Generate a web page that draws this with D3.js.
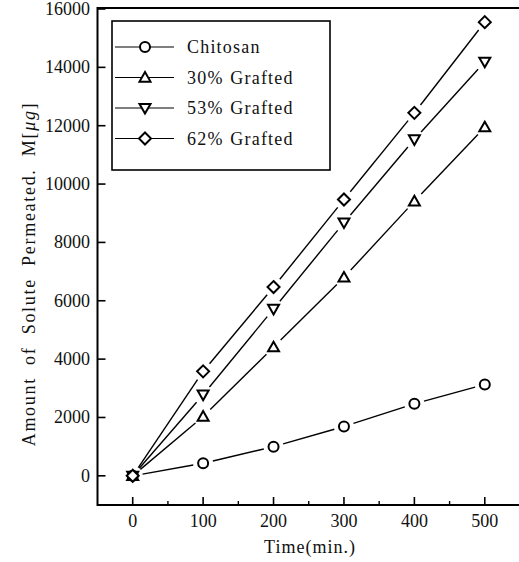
<!DOCTYPE html>
<html lang="en">
<head>
<meta charset="UTF-8">
<title>Amount of Solute Permeated</title>
<script src="https://cdnjs.cloudflare.com/ajax/libs/d3/7.8.5/d3.min.js"></script>
<style>
  body { margin: 0; background: #fff; }
  text { font-family: "Liberation Serif", "DejaVu Serif", serif; fill: #111; }
</style>
</head>
<body>
<div id="chart"></div>
<script>
// data
const times = [0, 100, 200, 300, 400, 500];
const chitosan = [0, 430, 1000, 1690, 2470, 3130];
const grafted30 = [0, 2030, 4410, 6800, 9410, 11950];
const grafted53 = [0, 2780, 5720, 8680, 11530, 14190];
const grafted62 = [0, 3580, 6470, 9470, 12440, 15550];
const seriesNames = ["Chitosan", "30% Grafted", "53% Grafted", "62% Grafted"];
const markers = ["circle", "up", "down", "diamond"];
const xTicks = [0, 100, 200, 300, 400, 500];
const xMinor = [50, 150, 250, 350, 450];
const yTicks = [0, 2000, 4000, 6000, 8000, 10000, 12000, 14000, 16000];

const width = 519, height = 562;
const svg = d3.select("#chart").append("svg")
    .attr("width", width).attr("height", height);

const x = d3.scaleLinear().domain([-50, 550]).range([97.5, 520]);
const y = d3.scaleLinear().domain([-1000, 16000]).range([505, 9]);

// frame
svg.append("path")
    .attr("d", `M${width},${y(16000) - 1}H${x(-50)}V${y(-1000)}H${width}`)
    .attr("fill", "none").attr("stroke", "#000").attr("stroke-width", 2);

// x ticks (inward)
xTicks.forEach(t => {
  svg.append("line").attr("x1", x(t)).attr("x2", x(t))
    .attr("y1", y(-1000)).attr("y2", y(-1000) - 8)
    .attr("stroke", "#000").attr("stroke-width", 1.6);
  svg.append("text").attr("x", x(t)).attr("y", y(-1000) + 22)
    .attr("text-anchor", "middle").attr("font-size", 18).text(t);
});
xMinor.forEach(t => {
  svg.append("line").attr("x1", x(t)).attr("x2", x(t))
    .attr("y1", y(-1000)).attr("y2", y(-1000) - 4)
    .attr("stroke", "#000").attr("stroke-width", 1.4);
});

// y ticks (inward)
yTicks.forEach(t => {
  svg.append("line").attr("x1", x(-50)).attr("x2", x(-50) + 8)
    .attr("y1", y(t)).attr("y2", y(t))
    .attr("stroke", "#000").attr("stroke-width", 1.6);
  svg.append("text").attr("x", 90).attr("y", y(t) + 6)
    .attr("text-anchor", "end").attr("font-size", 18).text(t);
});

// axis titles
svg.append("text").attr("x", 310).attr("y", 553)
    .attr("text-anchor", "middle").attr("font-size", 18)
    .attr("letter-spacing", 1).text("Time(min.)");
const yl = svg.append("text")
    .attr("transform", "translate(35,274) rotate(-90)")
    .attr("text-anchor", "middle").attr("font-size", 18)
    .attr("letter-spacing", 1.7).attr("word-spacing", 6);
yl.append("tspan").text("Amount of Solute Permeated. M[");
yl.append("tspan").attr("font-style", "italic").text("\u03bcg");
yl.append("tspan").text("]");

function drawMarker(g, type, cx, cy) {
  const s = 5.5;
  let d;
  if (type === "circle") {
    g.append("circle").attr("cx", cx).attr("cy", cy).attr("r", 5)
      .attr("fill", "#fff").attr("stroke", "#000").attr("stroke-width", 2);
    return;
  }
  if (type === "up") d = `M${cx},${cy - s}L${cx + s},${cy + s * 0.75}L${cx - s},${cy + s * 0.75}Z`;
  if (type === "down") d = `M${cx},${cy + s}L${cx + s},${cy - s * 0.75}L${cx - s},${cy - s * 0.75}Z`;
  if (type === "diamond") d = `M${cx},${cy - 6}L${cx + 6},${cy}L${cx},${cy + 6}L${cx - 6},${cy}Z`;
  g.append("path").attr("d", d).attr("fill", "#fff")
    .attr("stroke", "#000").attr("stroke-width", 2).attr("stroke-linejoin", "miter");
}

const allSeries = [chitosan, grafted30, grafted53, grafted62];
const plot = svg.append("g");
const gap = 10;
allSeries.forEach((vals, si) => {
  const pts = times.map((t, i) => [x(t), y(vals[i])]);
  for (let i = 0; i < pts.length - 1; i++) {
    const [x1, y1] = pts[i], [x2, y2] = pts[i + 1];
    const len = Math.hypot(x2 - x1, y2 - y1);
    const ux = (x2 - x1) / len, uy = (y2 - y1) / len;
    plot.append("line")
      .attr("x1", x1 + ux * gap).attr("y1", y1 + uy * gap)
      .attr("x2", x2 - ux * gap).attr("y2", y2 - uy * gap)
      .attr("stroke", "#000").attr("stroke-width", 1.4);
  }
});
allSeries.forEach((vals, si) => {
  times.forEach((t, i) => drawMarker(plot, markers[si], x(t), y(vals[i])));
});

// legend
const lg = svg.append("g");
lg.append("rect").attr("x", 112).attr("y", 21).attr("width", 218).attr("height", 149)
    .attr("fill", "#fff").attr("stroke", "#000").attr("stroke-width", 1.6);
seriesNames.forEach((name, i) => {
  const ly = 47 + i * 30.5;
  lg.append("line").attr("x1", 115).attr("x2", 174).attr("y1", ly).attr("y2", ly)
    .attr("stroke", "#000").attr("stroke-width", 1.2);
  drawMarker(lg, markers[i], 145, ly);
  lg.append("text").attr("x", 187).attr("y", ly + 6).attr("font-size", 18)
    .attr("letter-spacing", 1.2).attr("word-spacing", 1).text(name);
});
</script>
</body>
</html>
